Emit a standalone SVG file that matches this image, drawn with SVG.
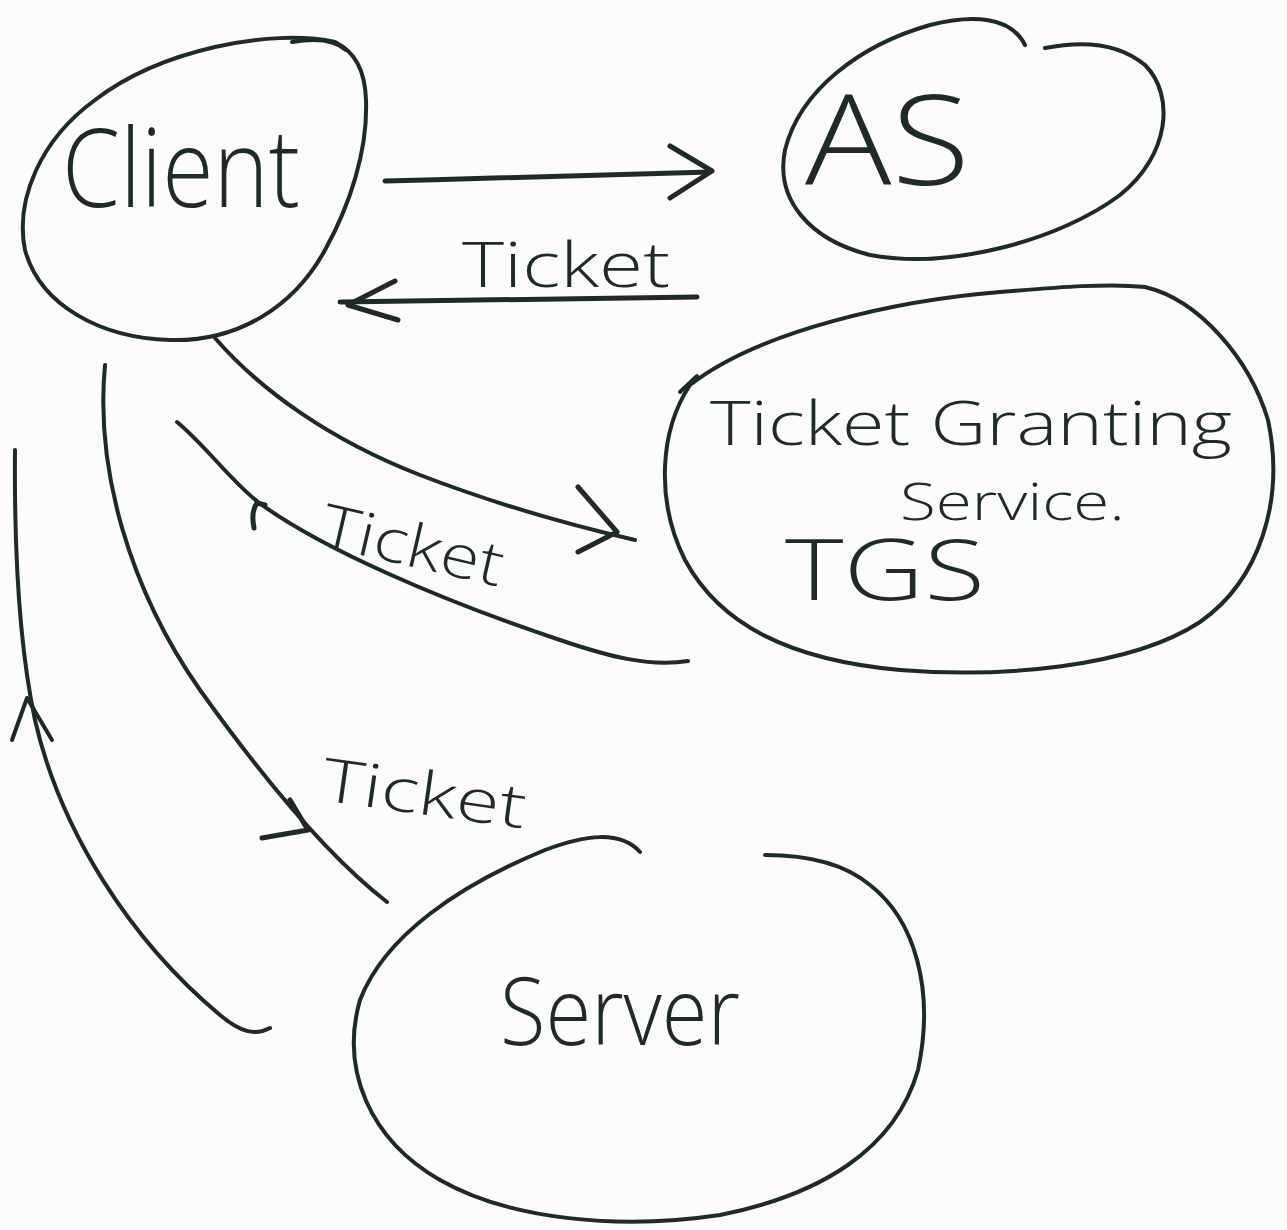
<svg xmlns="http://www.w3.org/2000/svg" width="1287" height="1230" viewBox="0 0 1287 1230">
  <style>
    .ink { fill: none; stroke: #1f2b28; stroke-width: 4; stroke-linecap: round; stroke-linejoin: round; }
    .head { fill: none; stroke: #1f2b28; stroke-width: 5; stroke-linecap: round; stroke-linejoin: round; }
    .lbl { fill: #1f2b28; font-family: "Open Sans", "Liberation Sans", sans-serif; font-weight: 300; }
  </style>
  <rect width="1287" height="1230" fill="#fcfcfa"/>

  <!-- Client -->
  <g id="client">
    <path class="ink" d="M 335,42 C 270,28 160,50 95,100 C 40,140 15,200 25,250 C 40,305 100,338 170,340 C 240,342 295,305 325,250 C 350,205 368,150 366,100 C 365,70 355,52 335,42"/>
    <path class="ink" d="M 292,42 C 315,38 335,40 346,50"/>
    <text class="lbl" x="62" y="207" font-size="108" textLength="238" lengthAdjust="spacingAndGlyphs">Client</text>
  </g>

  <!-- AS -->
  <g id="as">
    <path class="ink" d="M 1025,45 C 1010,15 970,15 930,25 C 860,45 800,90 785,150 C 775,200 810,240 870,255 C 950,270 1060,240 1120,195 C 1170,155 1175,95 1145,65 C 1115,40 1075,42 1045,48"/>
    <text class="lbl" x="805" y="185" font-size="125" textLength="165" lengthAdjust="spacingAndGlyphs">AS</text>
  </g>

  <!-- TGS -->
  <g id="tgs">
    <path class="ink" d="M 690,385 C 760,330 900,300 1000,292 C 1060,287 1110,283 1145,287 C 1200,300 1250,360 1268,420 C 1285,500 1260,580 1200,622 C 1130,668 1000,678 900,670 C 790,660 720,625 685,560 C 655,500 660,430 690,385"/>
    <path class="ink" d="M 680,392 L 697,376"/>
    <text class="lbl" x="710" y="445" font-size="60" textLength="522" lengthAdjust="spacingAndGlyphs">Ticket Granting</text>
    <text class="lbl" x="900" y="520" font-size="52" textLength="225" lengthAdjust="spacingAndGlyphs">Service.</text>
    <text class="lbl" x="785" y="600" font-size="84" textLength="200" lengthAdjust="spacingAndGlyphs">TGS</text>
  </g>

  <!-- Server -->
  <g id="server">
    <path class="ink" d="M 640,852 C 620,830 585,835 545,850 C 460,885 385,935 360,1000 C 340,1070 370,1140 440,1180 C 510,1220 620,1230 720,1215 C 820,1195 895,1150 918,1070 C 935,990 915,920 870,885 C 840,860 800,855 765,855"/>
    <text class="lbl" x="500" y="1045" font-size="94" textLength="240" lengthAdjust="spacingAndGlyphs">Server</text>
  </g>

  <!-- connectors -->
  <g id="connectors">
    <!-- client to AS -->
    <path class="head" d="M 385,181 C 500,178 620,175 710,172"/>
    <path class="head" d="M 670,146 L 712,171 L 670,198"/>

    <!-- AS back to client, carrying a ticket -->
    <path class="head" d="M 697,297 C 580,299 460,301 340,302"/>
    <path class="head" d="M 395,281 L 348,305 L 398,320"/>
    <text class="lbl" x="462" y="287" font-size="62" textLength="208" lengthAdjust="spacingAndGlyphs">Ticket</text>

    <!-- client to TGS -->
    <path class="ink" d="M 215,338 C 260,390 330,440 420,475 C 490,502 570,525 635,540"/>
    <path class="head" d="M 578,487 L 617,532 L 578,552"/>

    <!-- TGS back to client -->
    <path class="ink" d="M 177,422 C 205,445 230,480 258,502 C 320,548 440,600 560,640 C 610,657 650,667 688,661"/>
    <path class="head" d="M 254,528 C 252,518 252,510 257,503 L 265,505"/>
    <text class="lbl" x="318" y="545" font-size="60" textLength="185" lengthAdjust="spacingAndGlyphs" transform="rotate(13 318 545)">Ticket</text>

    <!-- client to server -->
    <path class="ink" d="M 105,365 C 95,470 130,590 200,690 C 250,760 320,850 387,902"/>
    <path class="head" d="M 290,800 L 308,830 L 262,838"/>
    <text class="lbl" x="320" y="800" font-size="60" textLength="205" lengthAdjust="spacingAndGlyphs" transform="rotate(8 320 800)">Ticket</text>

    <!-- server back to client -->
    <path class="ink" d="M 270,1028 C 255,1036 240,1032 220,1015 C 130,940 60,830 35,720 C 20,650 14,560 15,450"/>
    <path class="ink" d="M 12,740 L 27,698 L 52,740"/>
  </g>
</svg>
